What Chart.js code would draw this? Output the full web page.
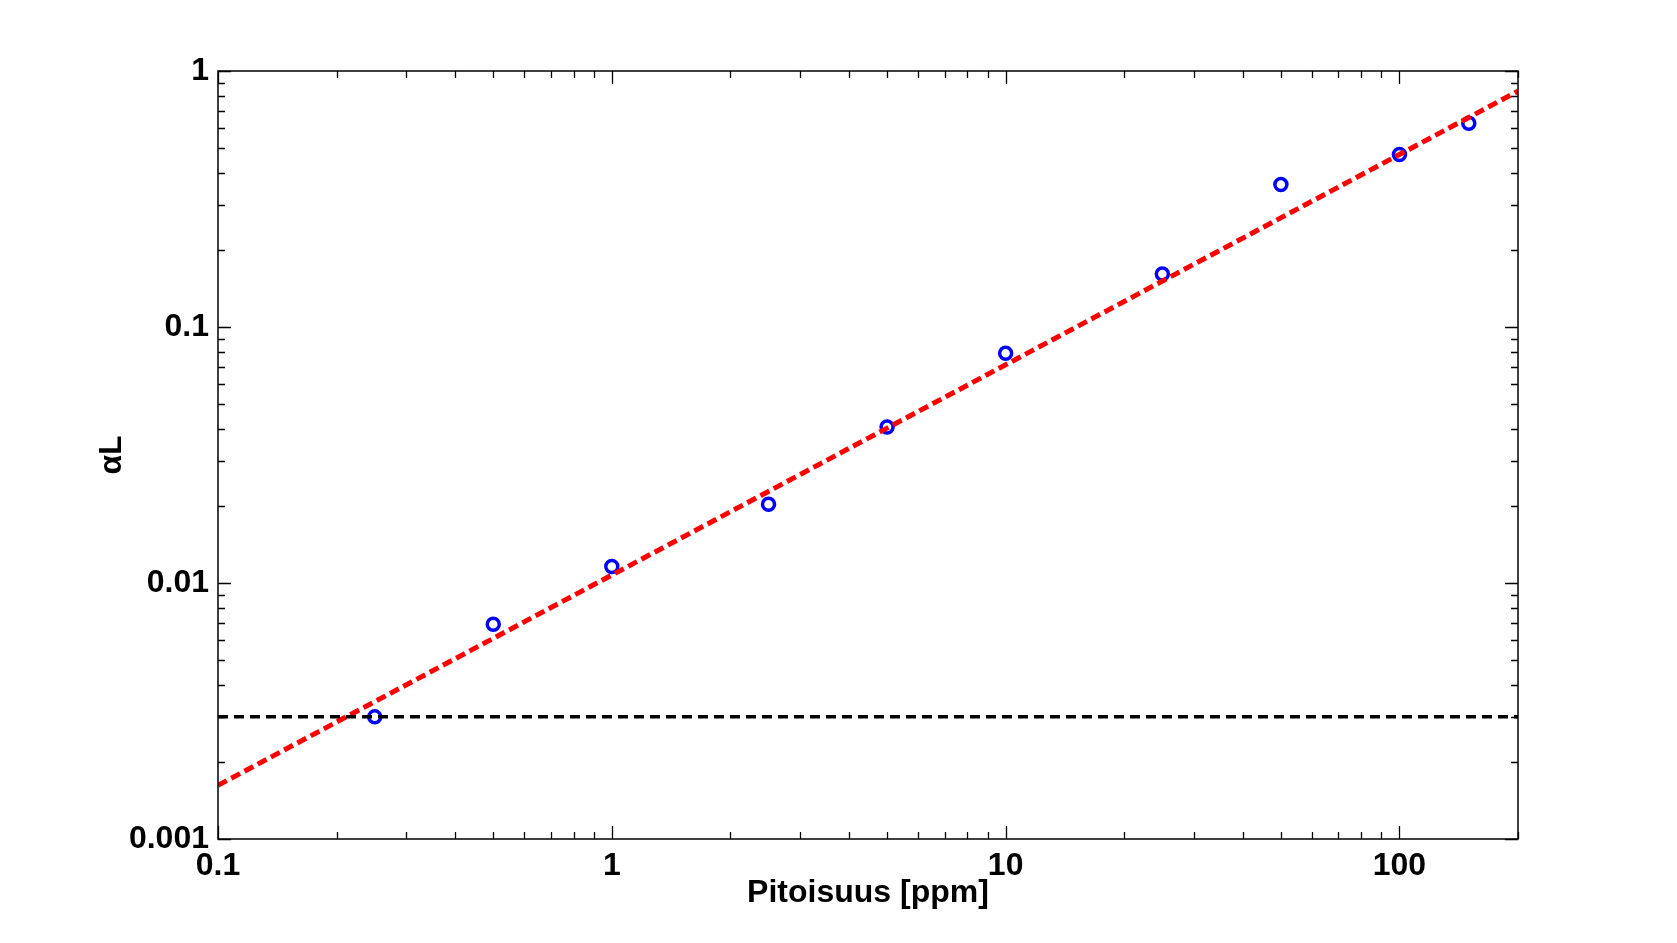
<!DOCTYPE html>
<html>
<head>
<meta charset="utf-8">
<script src="https://cdn.jsdelivr.net/npm/chart.js@4"></script>
<style>
html, body { margin: 0; padding: 0; background: #fff; }
#wrap { width: 1677px; height: 943px; }
</style>
</head>
<body>
<div id="wrap"><canvas id="myChart" width="1677" height="943"></canvas></div>
<script>
// measured points
var concentration = [0.25, 0.5, 1, 2.5, 5, 10, 25, 50, 100, 150]
var alphaL = [0.0030, 0.0069, 0.0116, 0.0203, 0.0407, 0.079, 0.161, 0.36, 0.472, 0.625]
// fitted line and detection limit
var fitX = [0.1, 200]
var fitY = [0.00162, 0.834]
var limitX = [0.1, 200]
var limitY = [0.003, 0.003]
// tick labels
var xMajor = [0.1, 1, 10, 100]
var yMajor = [0.001, 0.01, 0.1, 1]

function toPoints(xs, ys) {
  var out = []
  for (var i = 0; i < xs.length; i++) out.push({x: xs[i], y: ys[i]})
  return out
}
function logTicks(min, max) {
  var t = []
  for (var e = Math.floor(Math.log10(min)); e <= Math.ceil(Math.log10(max)); e++) {
    for (var m = 1; m < 10; m++) {
      var v = parseFloat((m * Math.pow(10, e)).toPrecision(6))
      if (v >= min - 1e-12 && v <= max + 1e-12) t.push(v)
    }
  }
  return t
}
function isMajor(v, list) {
  for (var i = 0; i < list.length; i++) if (Math.abs(v - list[i]) / list[i] < 1e-6) return true
  return false
}
var xTicks = logTicks(0.1, 200)
var yTicks = logTicks(0.001, 1)
var tickFont = {family: "'Liberation Sans', Arial, sans-serif", size: 32, weight: 'bold'}

// matlab style box with inward ticks
var boxTicks = {
  id: 'boxTicks',
  afterDraw: function(chart) {
    var ctx = chart.ctx, a = chart.chartArea
    var xs = chart.scales.x, ys = chart.scales.y
    ctx.save()
    ctx.strokeStyle = '#000'
    ctx.lineWidth = 1.3
    ctx.beginPath()
    xs.ticks.forEach(function(t) {
      var px = Math.round(xs.getPixelForValue(t.value)) + 0.5
      var len = isMajor(t.value, xMajor) ? 13 : 7
      ctx.moveTo(px, a.bottom); ctx.lineTo(px, a.bottom - len)
      ctx.moveTo(px, a.top); ctx.lineTo(px, a.top + len)
    })
    ys.ticks.forEach(function(t) {
      var py = Math.round(ys.getPixelForValue(t.value)) + 0.5
      var len = isMajor(t.value, yMajor) ? 13 : 7
      ctx.moveTo(a.left, py); ctx.lineTo(a.left + len, py)
      ctx.moveTo(a.right, py); ctx.lineTo(a.right - len, py)
    })
    ctx.stroke()
    ctx.lineWidth = 1.5
    ctx.strokeRect(a.left, a.top, a.right - a.left, a.bottom - a.top)
    ctx.restore()
  }
}

new Chart("myChart", {
  type: "scatter",
  data: {
    datasets: [{
      label: "Raja",
      type: "line",
      data: toPoints(limitX, limitY),
      borderColor: "#000000",
      borderWidth: 3.5,
      borderDash: [10, 6],
      pointRadius: 0,
      fill: false,
      order: 1
    }, {
      label: "Sovitus",
      type: "line",
      data: toPoints(fitX, fitY),
      borderColor: "#ff0000",
      borderWidth: 5,
      borderDash: [10, 5],
      pointRadius: 0,
      fill: false,
      order: 2
    }, {
      label: "Mittaus",
      data: toPoints(concentration, alphaL),
      borderColor: "#0000ff",
      backgroundColor: "rgba(0,0,0,0)",
      pointRadius: 6,
      pointBorderWidth: 3.5,
      order: 3
    }]
  },
  options: {
    responsive: false,
    animation: false,
    devicePixelRatio: 1,
    layout: {padding: {top: 71, right: 159, left: 0, bottom: 0}},
    plugins: {legend: {display: false}, tooltip: {enabled: false}},
    scales: {
      x: {
        type: "logarithmic",
        min: 0.1,
        max: 200,
        grid: {display: false, drawTicks: false},
        border: {display: false},
        afterBuildTicks: function(s) { s.ticks = xTicks.map(function(v) { return {value: v} }) },
        afterFit: function(s) { s.height = 104 },
        ticks: {
          autoSkip: false, maxRotation: 0, color: "#000", font: tickFont, padding: 8,
          callback: function(v) { return isMajor(v, xMajor) ? String(v) : "" }
        },
        title: {display: true, text: "Pitoisuus [ppm]", color: "#000", font: tickFont, padding: {top: 0, bottom: 31}}
      },
      y: {
        type: "logarithmic",
        min: 0.001,
        max: 1,
        grid: {display: false, drawTicks: false},
        border: {display: false},
        afterBuildTicks: function(s) { s.ticks = yTicks.map(function(v) { return {value: v} }) },
        afterFit: function(s) { s.width = 218 },
        ticks: {
          autoSkip: false, color: "#000", font: tickFont, padding: 9,
          callback: function(v) { return isMajor(v, yMajor) ? String(v) : "" }
        },
        title: {display: true, text: "αL", color: "#000", font: tickFont, padding: {top: 93, bottom: 0}}
      }
    }
  },
  plugins: [boxTicks]
})
</script>
</body>
</html>
